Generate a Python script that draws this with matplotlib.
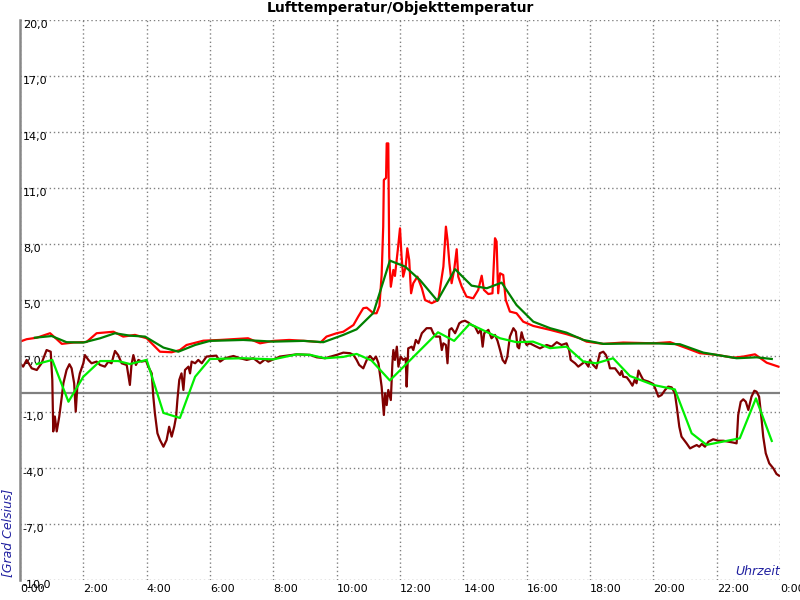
import matplotlib
matplotlib.use("Agg")
import matplotlib.pyplot as plt

# Lufttemperatur (rot) und geglaettet (dunkelgruen)
luft_t = [0.0, 0.21, 0.53, 0.95, 1.16, 1.32, 1.68, 2.1, 2.42, 2.95, 3.26, 3.63, 4.0, 4.42, 4.79,
          5.05, 5.26, 5.79, 6.32, 7.2, 7.58, 8.0, 8.5, 9.0, 9.5, 9.68, 10.0, 10.21, 10.53, 10.68,
          10.84, 10.95, 11.16, 11.26, 11.35, 11.42, 11.47, 11.49, 11.56, 11.58, 11.63, 11.66, 11.71,
          11.79, 11.84, 11.93, 12.0, 12.05, 12.1, 12.18, 12.23, 12.29, 12.35, 12.42, 12.55, 12.69,
          12.79, 13.0, 13.21, 13.29, 13.37, 13.45, 13.5, 13.56, 13.63, 13.71, 13.79, 13.84, 13.95,
          14.1, 14.31, 14.47, 14.58, 14.65, 14.79, 14.92, 15.0, 15.05, 15.1, 15.16, 15.26, 15.34,
          15.47, 15.68, 15.89, 16.21, 16.74, 17.26, 17.68, 17.89, 18.42, 19.05, 20.0, 20.53, 21.05,
          21.47, 22.0, 22.53, 22.84, 23.21, 23.58, 23.95]
luft = [2.77, 2.90, 2.98, 3.22, 2.90, 2.65, 2.72, 2.75, 3.22, 3.30, 3.04, 3.13, 2.95, 2.23, 2.20,
        2.32, 2.59, 2.82, 2.86, 2.95, 2.68, 2.81, 2.86, 2.81, 2.74, 3.04, 3.22, 3.30, 3.66, 4.11,
        4.56, 4.59, 4.29, 4.29, 4.68, 6.34, 8.93, 11.43, 11.54, 13.39, 13.39, 7.32, 5.71,
        6.61, 6.29, 7.68, 8.84, 7.32, 6.25, 6.79, 7.77, 7.15, 5.36, 5.90, 6.25, 5.63,
        5.00, 4.83, 5.00, 5.90, 6.79, 8.93, 8.22, 6.97, 5.90, 6.61, 7.72, 6.25, 5.71,
        5.18, 5.09, 5.54, 6.30, 5.54, 5.32, 5.36, 8.31, 8.13, 5.36, 6.43, 6.34, 5.00,
        4.38, 4.29, 3.84, 3.61, 3.40, 3.17, 2.95, 2.77, 2.65, 2.72, 2.68, 2.74, 2.42,
        2.15, 2.06, 1.91, 1.97, 2.09, 1.64, 1.43]

luft_glatt_t = [0.47, 1.0, 1.47, 2.0, 2.53, 3.0, 3.47, 3.95, 4.53, 5.0, 5.53, 6.0, 7.05, 8.0, 8.95,
                9.58, 10.21, 10.63, 11.16, 11.68, 12.16, 12.63, 13.18, 13.74, 14.26, 14.74, 15.21,
                15.68, 16.21, 16.74, 17.26, 17.79, 18.42, 20.0, 20.84, 21.58, 22.63, 23.26, 23.74]
luft_glatt = [2.98, 3.07, 2.74, 2.72, 2.95, 3.22, 3.09, 3.04, 2.45, 2.23, 2.59, 2.81, 2.86, 2.77, 2.81,
              2.74, 3.13, 3.43, 4.31, 7.11, 6.79, 6.07, 4.96, 6.65, 5.77, 5.63, 5.93,
              4.73, 3.84, 3.49, 3.25, 2.86, 2.65, 2.68, 2.63, 2.18, 1.88, 1.93, 1.84]

# Objekttemperatur (dunkelrot) und geglaettet (hellgruen)
obj_t = [0.0, 0.1, 0.21, 0.37, 0.53, 0.68, 0.84, 0.97, 1.02, 1.05, 1.1, 1.16, 1.24, 1.32, 1.37, 1.47,
         1.56, 1.63, 1.71, 1.76, 1.81, 1.89, 2.0, 2.05, 2.16, 2.26, 2.42, 2.53, 2.68, 2.79, 2.89, 3.0,
         3.1, 3.21, 3.37, 3.47, 3.52, 3.58, 3.66, 3.74, 3.84, 3.98, 4.05, 4.16, 4.21, 4.26, 4.34,
         4.42, 4.53, 4.63, 4.71, 4.79, 4.87, 4.93, 4.97, 5.03, 5.1, 5.16, 5.21, 5.32, 5.37, 5.42,
         5.53, 5.63, 5.74, 5.89, 6.2, 6.32, 6.47, 6.74, 6.95, 7.16, 7.37, 7.58, 7.74, 7.84, 8.0,
         8.21, 8.74, 9.16, 9.37, 9.63, 10.0, 10.21, 10.42, 10.53, 10.63, 10.71, 10.84, 10.95, 11.05,
         11.16, 11.24, 11.32, 11.42, 11.49, 11.53, 11.58, 11.63, 11.71, 11.76, 11.79, 11.84, 11.9,
         11.95, 12.02, 12.1, 12.18, 12.21, 12.26, 12.37, 12.42, 12.5, 12.58, 12.69, 12.84, 12.98,
         13.05, 13.13, 13.26, 13.32, 13.37, 13.45, 13.5, 13.56, 13.63, 13.74, 13.81, 13.87, 13.95,
         14.05, 14.16, 14.26, 14.37, 14.47, 14.55, 14.61, 14.66, 14.79, 14.89, 15.0, 15.08, 15.16,
         15.24, 15.32, 15.39, 15.47, 15.58, 15.66, 15.71, 15.76, 15.84, 15.89, 16.0, 16.1, 16.26,
         16.42, 16.63, 16.79, 16.95, 17.1, 17.26, 17.34, 17.39, 17.53, 17.63, 17.84, 17.95, 18.0,
         18.1, 18.2, 18.31, 18.42, 18.5, 18.58, 18.63, 18.79, 18.95, 19.0, 19.05, 19.16, 19.26,
         19.34, 19.41, 19.47, 19.53, 19.6, 19.68, 19.84, 20.0, 20.08, 20.16, 20.26, 20.37, 20.47,
         20.58, 20.68, 20.74, 20.82, 20.89, 21.05, 21.16, 21.26, 21.37, 21.45, 21.53, 21.63, 21.74,
         21.89, 22.05, 22.21, 22.37, 22.53, 22.63, 22.68, 22.76, 22.84, 22.92, 23.0, 23.05, 23.1,
         23.19, 23.26, 23.34, 23.42, 23.47, 23.55, 23.66, 23.79, 23.89, 23.97]
obj = [1.61, 1.43, 1.79, 1.34, 1.25, 1.61, 2.32, 2.23, 0.72, -2.04, -1.24, -2.04, -1.24, -0.18, 0.54, 1.25,
       1.56, 1.34, 0.54, -0.98, 0.36, 1.07, 1.61, 2.05, 1.79, 1.61, 1.70, 1.52, 1.43, 1.70, 1.61, 2.27,
       2.05, 1.61, 1.52, 0.45, 1.52, 2.05, 1.52, 1.79, 1.70, 1.75, 1.43, 1.07, -0.18, -1.07, -2.14,
       -2.50, -2.86, -2.50, -1.79, -2.32, -1.79, -1.25, -0.36, 0.72, 1.07, 0.18, 1.25, 1.43, 1.07, 1.70,
       1.61, 1.79, 1.61, 1.97, 2.02, 1.70, 1.88, 2.00, 1.88, 1.79, 1.88, 1.61, 1.82, 1.70, 1.82,
       1.97, 2.09, 2.06, 1.93, 1.88, 2.06, 2.18, 2.15, 2.06, 1.79, 1.52, 1.34, 1.79, 2.00,
       1.79, 1.97, 1.61, 0.36, -1.16, 0.0, -0.63, 0.18, -0.36, 1.61, 2.32, 1.79, 2.50,
       1.43, 1.97, 1.79, 1.88, 0.36, 2.41, 2.50, 2.32, 2.86, 2.68, 3.22, 3.49, 3.49,
       3.22, 3.04, 3.04, 2.32, 2.68, 2.59, 1.61, 3.40, 3.49, 3.22, 3.49, 3.75, 3.84,
       3.89, 3.79, 3.66, 3.57, 3.22, 3.40, 2.50, 3.22, 3.40, 2.95, 3.13, 2.81, 2.32,
       1.79, 1.61, 1.97, 3.04, 3.49, 3.30, 2.50, 2.41, 3.27, 2.95, 2.59, 2.68, 2.54,
       2.41, 2.59, 2.50, 2.74, 2.59, 2.68, 2.32, 1.79, 1.61, 1.43, 1.70, 1.43, 1.79,
       1.52, 1.34, 2.15, 2.23, 2.06, 1.70, 1.34, 1.34, 0.98, 1.20, 0.89, 0.86, 0.63,
       0.41, 0.72, 0.54, 1.22, 0.98, 0.72, 0.63, 0.50, 0.18, -0.18, -0.09, 0.18, 0.36,
       0.32, 0.0, -0.72, -1.79, -2.32, -2.68, -2.95, -2.86, -2.77, -2.86, -2.71, -2.86, -2.59,
       -2.46, -2.54, -2.54, -2.59, -2.64, -2.68, -1.16, -0.45, -0.32, -0.45, -0.89, -0.54, -0.18,
       0.14, 0.09, -0.18, -1.42, -2.32, -3.21, -3.75, -4.02, -4.32, -4.41]

obj_glatt_t = [0.53, 1.02, 1.53, 2.0, 2.53, 3.1, 3.47, 4.0, 4.53, 5.05, 5.53, 6.0, 7.05, 8.0, 8.74, 9.16,
               9.63, 10.2, 10.63, 11.1, 11.68, 13.2, 13.71, 14.2, 15.16, 15.68, 16.2, 16.74, 17.26,
               17.79, 18.2, 18.73, 19.26, 20.0, 20.68, 21.21, 21.68, 22.73, 23.24, 23.74]
obj_glatt = [1.57, 1.79, -0.45, 0.89, 1.73, 1.73, 1.57, 1.79, -1.05, -1.32, 0.89, 1.84, 1.88, 1.82, 2.09, 2.06,
             1.88, 1.95, 2.11, 1.76, 0.69, 3.27, 2.81, 3.72, 2.95, 2.74, 2.77, 2.42, 2.50,
             1.70, 1.61, 1.88, 0.93, 0.45, 0.21, -2.14, -2.76, -2.41, -0.27, -2.55]

y_ticks = [-10, -7, -4, -1, 2, 5, 8, 11, 14, 17, 20]
x_ticks = [0, 2, 4, 6, 8, 10, 12, 14, 16, 18, 20, 22, 24]


def main():
    fig = plt.figure(figsize=(8, 6), dpi=100)
    ax = fig.add_axes([0.025, 20 / 600, 0.95, 560 / 600])

    ax.axhline(0, color='#808080', lw=1.6, zorder=1)
    ax.plot(luft_t, luft, color='#ff0000', lw=1.6, zorder=2)
    ax.plot(obj_t, obj, color='#800000', lw=1.6, zorder=2)
    ax.plot(luft_glatt_t, luft_glatt, color='#008000', lw=1.6, zorder=3)
    ax.plot(obj_glatt_t, obj_glatt, color='#00ee00', lw=1.6, zorder=3)

    ax.set_xlim(0, 24)
    ax.set_ylim(-10, 20)
    ax.set_xticks(x_ticks)
    ax.set_xticklabels([f"{h % 24}:00" for h in x_ticks])
    ax.set_yticks(y_ticks)
    ax.set_yticklabels([f"{v:.1f}".replace('.', ',') for v in y_ticks])
    ax.tick_params(axis='x', length=0, pad=3, labelsize=8)
    ax.tick_params(axis='y', length=0, pad=-2, labelsize=8)
    for lab in ax.get_xticklabels():
        lab.set_horizontalalignment('left')
    for lab in ax.get_yticklabels():
        lab.set_horizontalalignment('left')
        lab.set_verticalalignment('top')

    ax.grid(True, color='#808080', linestyle=(0, (1, 2)), lw=1)
    for s in ['top', 'right', 'bottom']:
        ax.spines[s].set_visible(False)
    ax.spines['left'].set_color('#888888')
    ax.spines['left'].set_linewidth(1.8)

    fig.text(0.5, 1 - 8 / 600, "Lufttemperatur/Objekttemperatur", ha='center', va='center',
             fontsize=10, fontweight='bold')
    fig.text(8 / 800, 23 / 600, "[Grad Celsius]", rotation=90, ha='center', va='bottom',
             fontsize=9, style='italic', color='#2020a0')
    ax.text(1.0, 0.003, "Uhrzeit", transform=ax.transAxes, ha='right', va='bottom',
            fontsize=9, style='italic', color='#2020a0')

    fig.savefig("out.png", dpi=100)


if __name__ == '__main__':
    main()
